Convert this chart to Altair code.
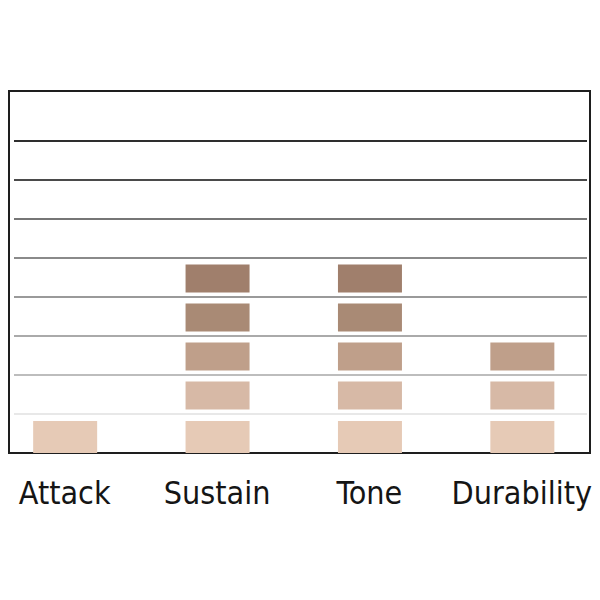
import altair as alt
import pandas as pd

categories = ["Attack", "Sustain", "Tone", "Durability"]
ratings = [1, 5, 5, 3]
level_colors = ["#e6cab6", "#d7b9a6", "#bf9f8a", "#a98a75", "#a07f6c"]
grid_levels = [1, 2, 3, 4, 5, 6, 7, 8]
grid_colors = ["#e8e8e8", "#bdbdbd", "#aaaaaa", "#9a9a9a", "#8a8a8a", "#767676", "#4a4a4a", "#2e2e2e"]
y_max = 9.28

blocks = pd.DataFrame(
    [
        {"category": c, "level": lvl, "top": lvl + 1, "color": level_colors[lvl]}
        for c, r in zip(categories, ratings)
        for lvl in range(r)
    ]
)
grid = pd.DataFrame({"level": grid_levels, "color": grid_colors})

W, H = 581, 362

x_enc = alt.X(
    "category:N",
    sort=categories,
    scale=alt.Scale(type="point", padding=0.4062, align=0.4536),
    axis=alt.Axis(
        title=None,
        domain=False,
        ticks=False,
        tickSize=0,
        grid=False,
        labelAngle=0,
        labelFont="DejaVu Sans Condensed",
        labelFontSize=32,
        labelColor="#151515",
        labelPadding=50,
        labelBaseline="alphabetic",
        labelOverlap=False,
        labelOffset=-1,
    ),
)
y_scale = alt.Scale(domain=[0, y_max], nice=False, zero=True)

gridlines = alt.Chart(grid).mark_rule(strokeWidth=2).encode(
    y=alt.Y("level:Q", scale=y_scale, axis=None),
    color=alt.Color("color:N", scale=None),
    x=alt.value(5),
    x2=alt.value(W - 3),
)

ground = (
    alt.Chart(blocks)
    .transform_filter("datum.level == 0")
    .mark_bar(width=64, y2Offset=7)
    .encode(
        x=x_enc,
        y=alt.Y("level:Q", scale=y_scale, axis=None),
        y2="top:Q",
        color=alt.Color("color:N", scale=None),
    )
)

upper = (
    alt.Chart(blocks)
    .transform_filter("datum.level > 0")
    .mark_bar(width=64, yOffset=-4.5, y2Offset=6.5)
    .encode(
        x=x_enc,
        y=alt.Y("level:Q", scale=y_scale, axis=None),
        y2="top:Q",
        color=alt.Color("color:N", scale=None),
    )
)

chart = (
    alt.layer(gridlines, ground, upper)
    .properties(
        width=W,
        height=H,
        autosize=alt.AutoSizeParams(type="none"),
        padding={"left": 1, "top": 83, "right": 2, "bottom": 90},
        background="white",
    )
    .configure_view(stroke="#1e1e1e", strokeWidth=2)
)

chart.save("out.html", embed_options={"renderer": "svg", "actions": False})
